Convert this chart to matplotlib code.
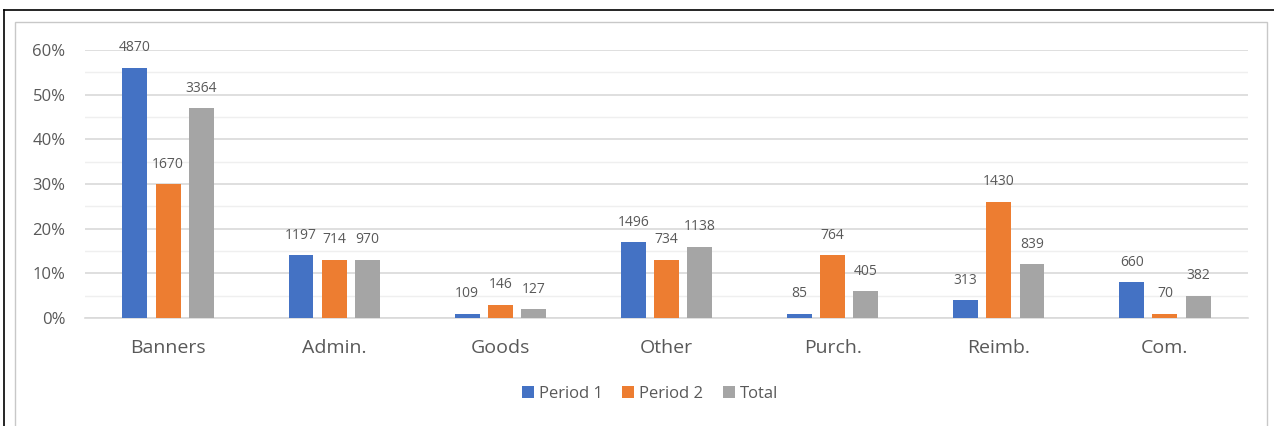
import numpy as np
import matplotlib.pyplot as plt
from matplotlib.patches import Rectangle
from matplotlib.lines import Line2D
from matplotlib.ticker import FuncFormatter, MultipleLocator

categories = ["Banners", "Admin.", "Goods", "Other", "Purch.", "Reimb.", "Com."]
series_names = ["Period 1", "Period 2", "Total"]
# bar heights in percent
pct_p1 = [56, 14, 1, 17, 1, 4, 8]
pct_p2 = [30, 13, 3, 13, 14, 26, 1]
pct_total = [47, 13, 2, 16, 6, 12, 5]
# counts shown above the bars
cnt_p1 = [4870, 1197, 109, 1496, 85, 313, 660]
cnt_p2 = [1670, 714, 146, 734, 764, 1430, 70]
cnt_total = [3364, 970, 127, 1138, 405, 839, 382]

colors = ["#4472C4", "#ED7D31", "#A5A5A5"]
txt = "#595959"

plt.rcParams['font.family'] = ['Open Sans', 'DejaVu Sans']

fig = plt.figure(figsize=(12.74, 4.26), dpi=100)
W, H = 1274, 426
ax = fig.add_axes([85 / W, 1 - 318 / H, (1248 - 85) / W, (318 - 50) / H])

x = np.arange(len(categories))
width = 0.15
offsets = [-0.2, 0, 0.2]
for vals, cnts, name, col, off in zip([pct_p1, pct_p2, pct_total],
                                      [cnt_p1, cnt_p2, cnt_total],
                                      series_names, colors, offsets):
    bars = ax.bar(x + off, vals, width, color=col, label=name, zorder=3)
    for b, c in zip(bars, cnts):
        ax.annotate(str(c), (b.get_x() + b.get_width() / 2, b.get_height()),
                    xytext=(0, 9), textcoords="offset points",
                    ha="center", va="bottom", fontsize=10, color=txt)

ax.set_xlim(-0.5, len(categories) - 0.5)
ax.set_ylim(0, 60)
ax.yaxis.set_major_locator(MultipleLocator(10))
ax.yaxis.set_minor_locator(MultipleLocator(5))
ax.yaxis.set_major_formatter(FuncFormatter(lambda v, p: f"{v:.0f}%"))
ax.grid(axis="y", which="major", color="#D9D9D9", linewidth=1.2, zorder=0)
ax.grid(axis="y", which="minor", color="#EFEFEF", linewidth=1.0, zorder=0)
for s in ["top", "right", "left"]:
    ax.spines[s].set_visible(False)
ax.spines["bottom"].set_color("#D9D9D9")
ax.spines["bottom"].set_linewidth(1.2)
ax.tick_params(axis="y", which="both", length=0, labelsize=12, labelcolor=txt, pad=14)
ax.tick_params(axis="x", length=0, labelsize=14, labelcolor=txt, pad=15)
ax.set_xticks(x)
ax.set_xticklabels(categories)

fig.legend(loc="center", bbox_to_anchor=(650 / W, 1 - 394 / H), ncol=3,
           frameon=False, fontsize=12, labelcolor=txt, handlelength=0.7,
           handleheight=0.7, handletextpad=0.3, columnspacing=1.2)

# outer black frame and inner light frame
fig.add_artist(Line2D([4 / W, 4 / W], [0, 1 - 10 / H], color="black", lw=1.2, transform=fig.transFigure))
fig.add_artist(Line2D([4 / W, 1], [1 - 10 / H, 1 - 10 / H], color="black", lw=1.2, transform=fig.transFigure))
fig.add_artist(Rectangle((15 / W, -0.05), (1267 - 15) / W, 1 - 22 / H + 0.05, fill=False,
                         edgecolor="#C8C8C8", lw=1.0, transform=fig.transFigure))

fig.savefig("out.png", dpi=100)
